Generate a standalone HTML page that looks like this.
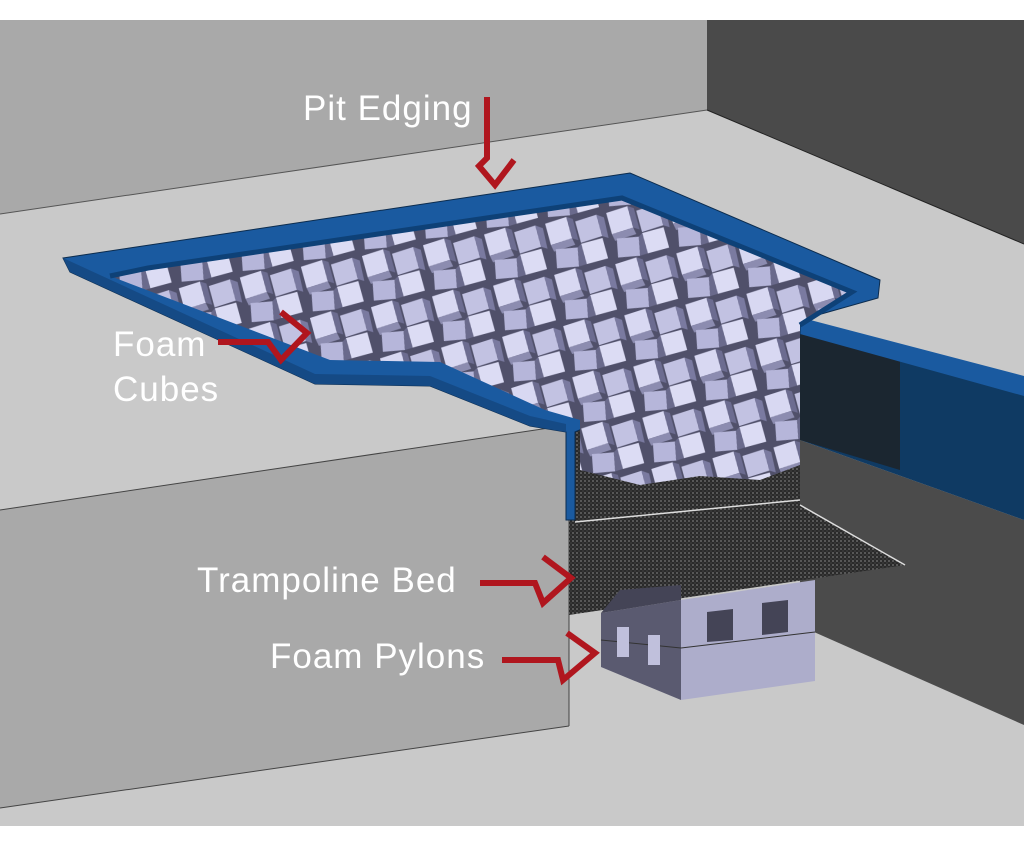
<!DOCTYPE html>
<html><head><meta charset="utf-8"><style>
html,body{margin:0;padding:0;background:#fff}
svg{display:block}
text{font-family:"Liberation Sans",sans-serif;fill:#fff;font-size:35px;letter-spacing:1px}
</style></head><body>
<svg width="1024" height="847" viewBox="0 0 1024 847" xmlns="http://www.w3.org/2000/svg">
<defs>
<pattern id="cubes" width="62" height="52" patternUnits="userSpaceOnUse" patternTransform="rotate(-10)">
<rect width="62" height="52" fill="#50506a"/>
<polygon points="2,3 24,0 26,22 4,25" fill="#d8d8f2"/>
<polygon points="4,25 26,22 28,29 6,32" fill="#8c8cb0"/>
<polygon points="24,0 30,3 32,25 26,22" fill="#6c6c90"/>
<polygon points="32,6 54,3 56,25 34,28" fill="#c2c2e2"/>
<polygon points="54,3 61,7 62,28 56,25" fill="#7a7aa0"/>
<polygon points="8,30 30,32 28,51 6,49" fill="#b6b6da"/>
<polygon points="34,29 56,27 58,48 36,50" fill="#dcdcf4"/>
<polygon points="30,32 34,29 36,50 28,51" fill="#6a6a8c"/>
</pattern>
<pattern id="mesh" width="4" height="4" patternUnits="userSpaceOnUse">
<rect width="4" height="4" fill="#2a2a2a"/><circle cx="1" cy="1" r="0.9" fill="#777"/><circle cx="3" cy="3" r="0.6" fill="#555"/>
</pattern>
</defs>
<rect width="1024" height="847" fill="#fff"/>
<rect x="0" y="20" width="1024" height="806" fill="#c9c9c9"/>
<polygon points="0,20 707,20 707,110 0,214" fill="#a9a9a9"/>
<line x1="0" y1="214" x2="707" y2="110" stroke="#555" stroke-width="1"/>
<polygon points="707,20 1024,20 1024,244 707,110" fill="#4a4a4a"/>
<line x1="707" y1="110" x2="1024" y2="244" stroke="#222" stroke-width="1"/>
<!-- right raised block -->
<polygon points="800,440 1024,520 1024,725 814,632 800,620" fill="#4b4b4b"/>
<polygon points="800,330 1024,395 1024,520 800,440" fill="#0f3a63"/>
<polygon points="800,330 900,358 900,470 800,440" fill="#1b2630"/>
<polygon points="795,316 1024,376 1024,396 800,334" fill="#1a5aa0"/>
<!-- front block -->
<polygon points="0,510 569,425 569,726 0,808" fill="#a9a9a9"/>
<line x1="0" y1="510" x2="569" y2="425" stroke="#444"/>
<line x1="569" y1="425" x2="569" y2="726" stroke="#444"/>
<line x1="0" y1="808" x2="569" y2="726" stroke="#444"/>
<!-- pit interior -->
<polygon points="569,420 800,410 800,520 569,520" fill="url(#mesh)"/>
<polygon points="569,520 800,505 905,565 569,615" fill="url(#mesh)"/>
<line x1="575" y1="522" x2="800" y2="500" stroke="#ddd" stroke-width="1.5"/>
<line x1="800" y1="505" x2="905" y2="565" stroke="#ddd" stroke-width="1.5"/>
<!-- blue edging outer -->
<polygon points="63,258 630,173 880,280 878,298 800,320 800,335 575,432 575,520 566,520 566,432 530,426 430,386 315,384 70,272" fill="#1a5aa0" stroke="#0c2c4e" stroke-width="1"/>
<polygon points="63,258 70,272 315,384 430,386 530,426 566,432 566,424 530,416 430,376 315,374" fill="#154a85"/>
<!-- cubes -->
<polygon points="148,268 622,198 852,292 800,325 800,465 760,480 700,476 640,485 580,470 580,420 545,410 440,362 330,360 110,276" fill="url(#cubes)"/>
<!-- inner edging faces -->
<polyline points="110,276 148,268 622,198 852,292 800,325" fill="none" stroke="#0e4177" stroke-width="5"/>
<!-- pylons -->
<polygon points="601,613 681,600 681,700 601,667" fill="#5a5a70"/>
<polygon points="681,600 815,580 815,681 681,700" fill="#adadcb"/>
<polygon points="601,613 681,600 681,585 620,590" fill="#444456"/>
<line x1="601" y1="640" x2="681" y2="648" stroke="#333"/>
<line x1="681" y1="648" x2="815" y2="632" stroke="#333"/>
<rect x="617" y="627" width="12" height="30" fill="#c0c0dc"/>
<rect x="648" y="635" width="12" height="30" fill="#c0c0dc"/>
<polygon points="707,612 733,609 733,640 707,642" fill="#444456"/>
<polygon points="762,603 788,600 788,632 762,635" fill="#444456"/>
<!-- labels -->
<text x="303" y="120">Pit Edging</text>
<text x="113" y="356">Foam</text>
<text x="113" y="401">Cubes</text>
<text x="197" y="592">Trampoline Bed</text>
<text x="270" y="668">Foam Pylons</text>
<g fill="none" stroke="#b0161e" stroke-width="6" stroke-linejoin="miter">
<path d="M487,97 V158 L479,166 L495,185 L514,160"/>
<path d="M218,342 H268 L281,360 L307,333 L281,312"/>
<path d="M480,583 H535 L543,603 L571,578 L543,557"/>
<path d="M502,660 H558 L563,680 L595,653 L567,633"/>
</g>
</svg>
</body></html>
